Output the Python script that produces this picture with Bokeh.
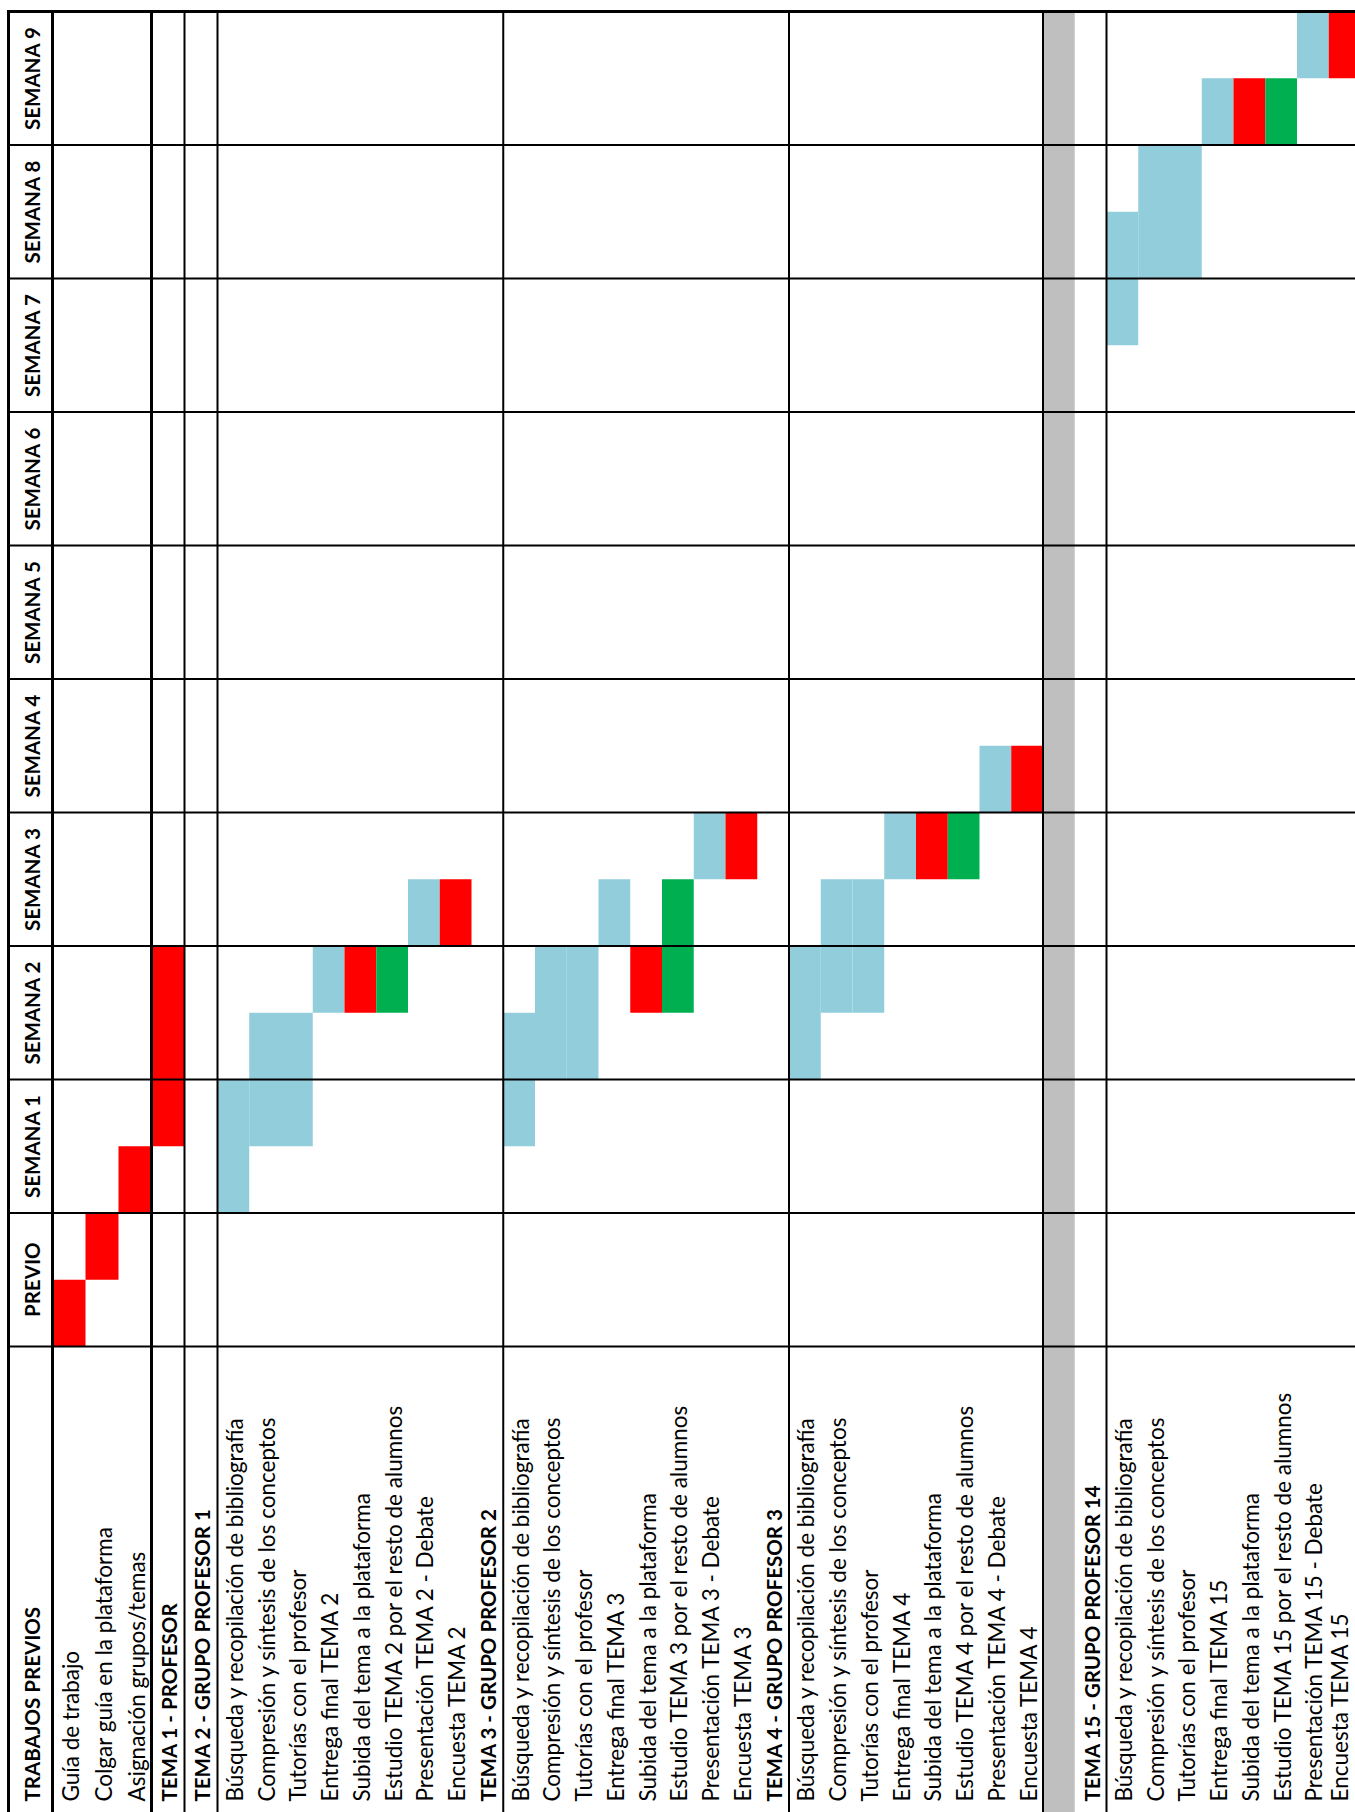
from bokeh.plotting import figure
from bokeh.models import ColumnDataSource, Range1d
from bokeh.embed import file_html
from bokeh.resources import INLINE
from bokeh.core.properties import value

# ---------------- data ----------------
weeks = ["PREVIO", "SEMANA 1", "SEMANA 2", "SEMANA 3", "SEMANA 4",
         "SEMANA 5", "SEMANA 6", "SEMANA 7", "SEMANA 8", "SEMANA 9"]
corner_label = "TRABAJOS PREVIOS"

tasks = [
    "Guía de trabajo",
    "Colgar guía en la plataforma",
    "Asignación grupos/temas",
    "TEMA 1 - PROFESOR",
    "TEMA 2 - GRUPO PROFESOR 1",
    "Búsqueda y recopilación de bibliografía",
    "Compresión y síntesis de los conceptos",
    "Tutorías con el profesor",
    "Entrega final TEMA 2",
    "Subida del tema a la plataforma",
    "Estudio TEMA 2 por el resto de alumnos",
    "Presentación TEMA 2 - Debate",
    "Encuesta TEMA 2",
    "TEMA 3 - GRUPO PROFESOR 2",
    "Búsqueda y recopilación de bibliografía",
    "Compresión y síntesis de los conceptos",
    "Tutorías con el profesor",
    "Entrega final TEMA 3",
    "Subida del tema a la plataforma",
    "Estudio TEMA 3 por el resto de alumnos",
    "Presentación TEMA 3 - Debate",
    "Encuesta TEMA 3",
    "TEMA 4 - GRUPO PROFESOR 3",
    "Búsqueda y recopilación de bibliografía",
    "Compresión y síntesis de los conceptos",
    "Tutorías con el profesor",
    "Entrega final TEMA 4",
    "Subida del tema a la plataforma",
    "Estudio TEMA 4 por el resto de alumnos",
    "Presentación TEMA 4 - Debate",
    "Encuesta TEMA 4",
    "",
    "TEMA 15 - GRUPO PROFESOR 14",
    "Búsqueda y recopilación de bibliografía",
    "Compresión y síntesis de los conceptos",
    "Tutorías con el profesor",
    "Entrega final TEMA 15",
    "Subida del tema a la plataforma",
    "Estudio TEMA 15 por el resto de alumnos",
    "Presentación TEMA 15 - Debate",
    "Encuesta TEMA 15",
]
header_tasks = ["TEMA 1 - PROFESOR", "TEMA 2 - GRUPO PROFESOR 1",
                "TEMA 3 - GRUPO PROFESOR 2", "TEMA 4 - GRUPO PROFESOR 3",
                "TEMA 15 - GRUPO PROFESOR 14"]
gap_task = ""

# bars: task row index, start / end in half-weeks (0 = start of PREVIO), kind
bar_row = [0, 1, 2, 3,
           5, 6, 7, 8, 9, 10, 11, 12,
           14, 15, 16, 17, 18, 19, 20, 21,
           23, 24, 25, 26, 27, 28, 29, 30,
           33, 34, 35, 36, 37, 38, 39, 40]
bar_start = [0, 1, 2, 3,
             2, 3, 3, 5, 5, 5, 6, 6,
             3, 4, 4, 6, 5, 5, 7, 7,
             4, 5, 5, 7, 7, 7, 8, 8,
             15, 16, 16, 18, 18, 18, 19, 19]
bar_end = [1, 2, 3, 6,
           4, 5, 5, 6, 6, 6, 7, 7,
           5, 6, 6, 7, 6, 7, 8, 8,
           6, 7, 7, 8, 8, 8, 9, 9,
           17, 18, 18, 19, 19, 19, 20, 20]
bar_kind = ["hito", "hito", "hito", "hito",
            "trabajo", "trabajo", "trabajo", "trabajo", "hito", "estudio", "trabajo", "hito",
            "trabajo", "trabajo", "trabajo", "trabajo", "hito", "estudio", "trabajo", "hito",
            "trabajo", "trabajo", "trabajo", "trabajo", "hito", "estudio", "trabajo", "hito",
            "trabajo", "trabajo", "trabajo", "trabajo", "hito", "estudio", "trabajo", "hito"]

# ---------------- layout / style ----------------
KIND_COLOR = {"trabajo": "#92CDDC", "hito": "#FF0000", "estudio": "#00B050"}
GAP_COLOR = "#BFBFBF"
FONT = "Lato"
FS_TASK = "22.5px"
FS_HEAD = "20.5px"
FS_WEEK = "20.5px"

W, H = 1355, 1812
LEFT = 8.0                    # left border, px
HEAD_W = 44.0                 # width of the header (week-name) column, px
ROW_W_FIRST, N_FIRST = 33.0, 5
ROW_W = 31.75
T_PX = 66.75                  # px per half-week
T_TOP = 20                    # half-weeks in chart
TOP_PAD = 11.0                # px above top border
T_MAX = T_TOP + TOP_PAD / T_PX
T_MIN = T_MAX - H / T_PX
LABEL_T = T_MIN + 11.0 / T_PX  # where the rotated task labels start
X_LIMIT = W - 16              # keep the last label inside the page

edges = [LEFT + HEAD_W]
for i in range(len(tasks)):
    edges.append(edges[-1] + (ROW_W_FIRST if i < N_FIRST else ROW_W))
centers = [min((edges[i] + edges[i + 1]) / 2 + 1, X_LIMIT) for i in range(len(tasks))]
head_c = LEFT + HEAD_W / 2 + 1

p = figure(width=W, height=H, x_range=Range1d(0, W), y_range=Range1d(T_MIN, T_MAX),
           output_backend="svg", toolbar_location=None, min_border=0,
           outline_line_color=None, background_fill_color="white",
           border_fill_color="white")
p.axis.visible = False
p.grid.visible = False

# gray separator column
gi = tasks.index(gap_task)
p.quad(left=[edges[gi]], right=[edges[gi + 1]], bottom=[T_MIN - 1], top=[T_TOP],
       fill_color=GAP_COLOR, line_color=None)

# bars
src = ColumnDataSource(dict(
    left=[edges[r] for r in bar_row],
    right=[edges[r + 1] for r in bar_row],
    bottom=bar_start, top=bar_end,
    color=[KIND_COLOR[k] for k in bar_kind]))
p.quad(left="left", right="right", bottom="bottom", top="top",
       fill_color="color", line_color=None, source=src)

# horizontal week lines
ht = [2 * k for k in range(len(weeks))]
p.segment(x0=[LEFT] * len(ht), x1=[W + 10] * len(ht), y0=ht, y1=ht,
          line_color="black", line_width=2)
p.segment(x0=[LEFT - 1.5], x1=[W + 10], y0=[T_TOP], y1=[T_TOP], line_color="black", line_width=3)

# vertical lines
thick_x = [LEFT, LEFT + HEAD_W, edges[tasks.index(header_tasks[0])]]
thin_x = [edges[tasks.index(h) + 1] for h in header_tasks] + [edges[gi]]
thin_x = [x for x in thin_x if x not in thick_x]
p.segment(x0=thick_x, x1=thick_x, y0=[T_MIN - 1] * len(thick_x), y1=[T_TOP] * len(thick_x),
          line_color="black", line_width=3)
p.segment(x0=thin_x, x1=thin_x, y0=[T_MIN - 1] * len(thin_x), y1=[T_TOP] * len(thin_x),
          line_color="black", line_width=2)

# week labels
p.text(x=[head_c] * len(weeks), y=[2 * k + 1 for k in range(len(weeks))], text=weeks,
       angle=1.5707963, text_align="center", text_baseline="middle",
       text_font=value(FONT), text_font_size=FS_WEEK, text_font_style="bold", text_color="black")

# task labels
norm_idx = [i for i, t in enumerate(tasks) if t not in header_tasks and t != gap_task]
bold_idx = [i for i, t in enumerate(tasks) if t in header_tasks]
p.text(x=[centers[i] for i in norm_idx], y=[LABEL_T] * len(norm_idx),
       text=[tasks[i] for i in norm_idx], angle=1.5707963,
       text_align="left", text_baseline="middle",
       text_font=value(FONT), text_font_size=FS_TASK, text_color="black")
p.text(x=[head_c] + [centers[i] for i in bold_idx], y=[LABEL_T] * (len(bold_idx) + 1),
       text=[corner_label] + [tasks[i] for i in bold_idx], angle=1.5707963,
       text_align="left", text_baseline="middle",
       text_font=value(FONT), text_font_size=FS_HEAD, text_font_style="bold", text_color="black")

open("out.html", "w").write(file_html(p, INLINE))
